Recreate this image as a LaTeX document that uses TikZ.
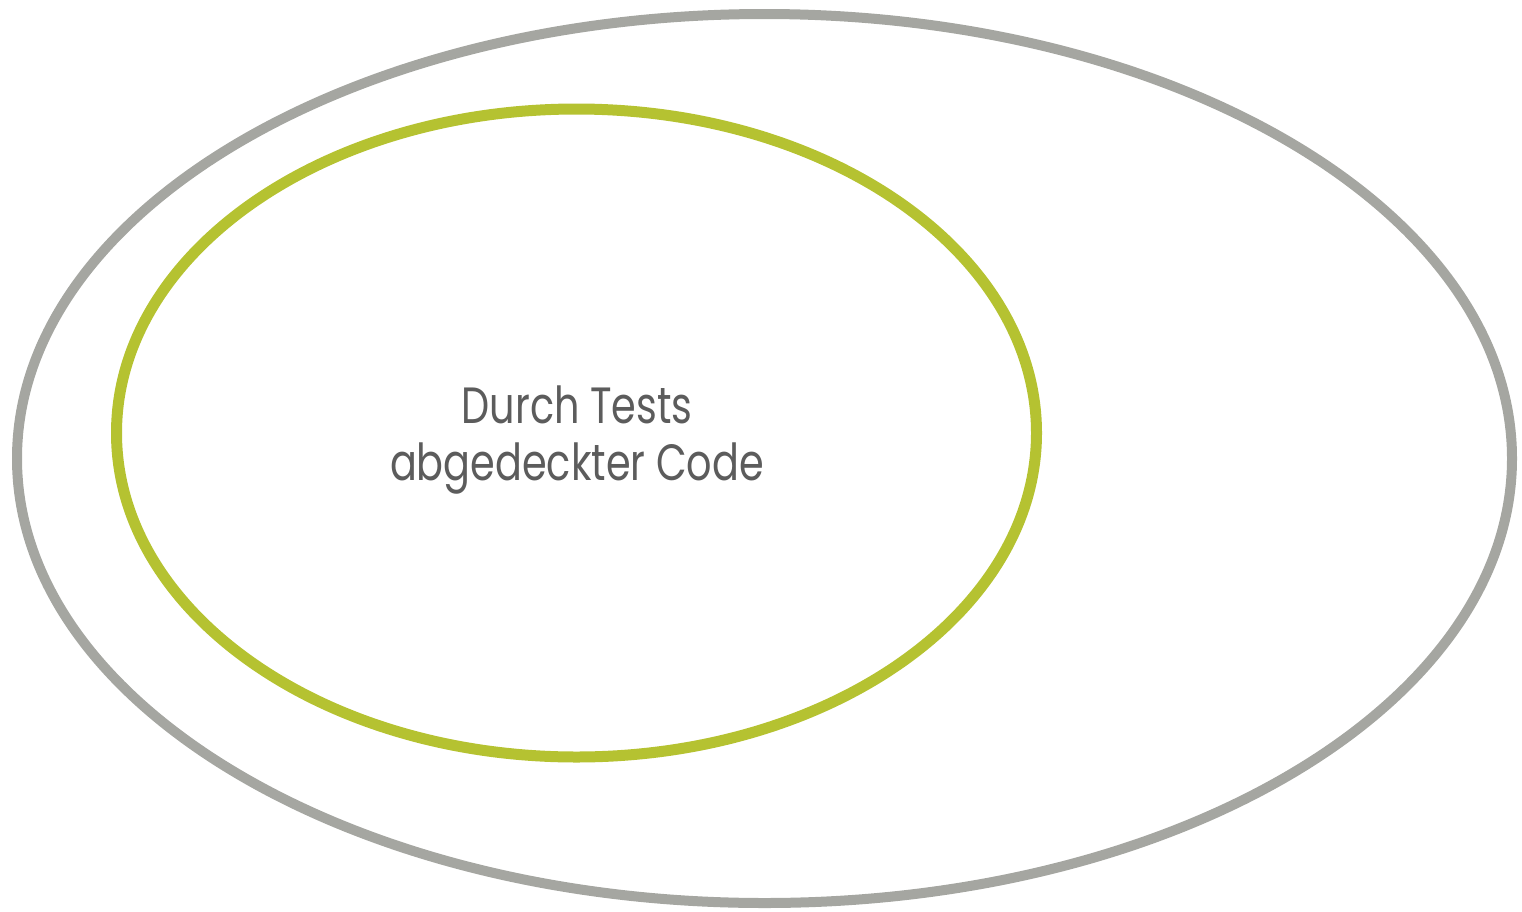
\documentclass[tikz,border=0pt]{standalone}
\usepackage{fontspec}
\setmainfont{Poppins}[FakeStretch=0.78]
\definecolor{outergray}{HTML}{A5A6A1}
\definecolor{innergreen}{HTML}{B5C231}
\definecolor{textgray}{HTML}{5C5C5C}
\begin{document}
\begin{tikzpicture}[x=1pt,y=-1pt,
  outerset/.style={draw=outergray,line width=10pt},
  innerset/.style={draw=innergreen,line width=11pt},
  labeltext/.style={text=textgray,font=\fontsize{51}{57}\selectfont,align=center,inner sep=0pt}]
\useasboundingbox (0,0) rectangle (1522,911);
\draw[outerset] (764.5,458.5) ellipse [x radius=747.5, y radius=444.5];
\draw[innerset] (576.5,433) ellipse [x radius=460, y radius=324];
\node[labeltext] (label) at (577,440) {Durch Tests\\abgedeckter Code};
\end{tikzpicture}
\end{document}
